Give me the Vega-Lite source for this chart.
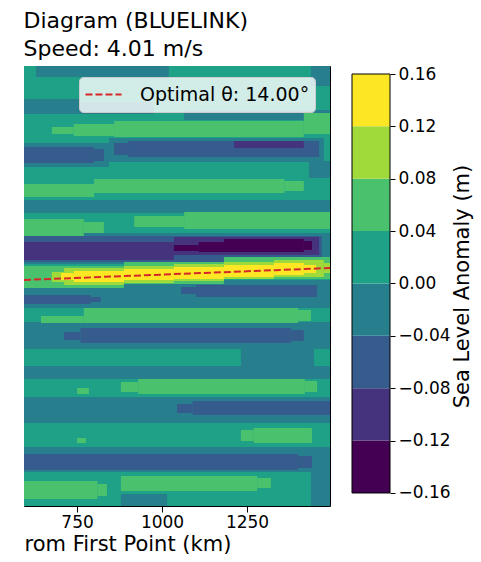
{
  "$schema": "https://vega.github.io/schema/vega-lite/v6.json",
  "padding": {"left": 23, "top": 10, "right": 2, "bottom": 2},
  "background": "white",
  "config": {
    "font": "DejaVu Sans",
    "view": {"stroke": null},
    "axis": {"labelColor": "black", "titleColor": "black", "tickColor": "black", "labelFontSize": 17, "titleFontSize": 21, "titleFontWeight": "normal", "grid": false, "domain": false, "tickSize": 6, "tickWidth": 1}
  },
  "title": {"text": ["Diagram (BLUELINK)", "Speed: 4.01 m/s"], "anchor": "start", "fontSize": 22, "fontWeight": "normal", "lineHeight": 28, "color": "black", "offset": 4},
  "spacing": 20,
  "resolve": {"legend": {"stroke": "independent"}},
  "hconcat": [
    {
      "width": 306,
      "height": 440,
      "view": {"stroke": "black", "strokeWidth": 1},
      "encoding": {
        "x": {"field": "km", "type": "quantitative", "scale": {"domain": [594, 1494], "nice": false, "zero": false}, "axis": {"values": [750, 1000, 1250], "format": "d", "title": "rom First Point (km)", "titleAnchor": "start", "labelPadding": 2, "titlePadding": 3}},
        "y": {"field": "t", "type": "quantitative", "scale": {"domain": [0, 440], "nice": false, "zero": false, "reverse": true}, "axis": null}
      },
      "layer": [
        {
          "data": {"values": [
            {"km": 594, "km2": 1494, "t": 0, "t2": 440, "sla": 0.02},
            {"km": 629, "km2": 1020, "t": 0, "t2": 11, "sla": -0.02},
            {"km": 1438, "km2": 1494, "t": 0, "t2": 20, "sla": -0.02},
            {"km": 594, "km2": 756, "t": 33, "t2": 48, "sla": -0.02},
            {"km": 756, "km2": 976, "t": 36, "t2": 48, "sla": -0.02},
            {"km": 1065, "km2": 1494, "t": 44, "t2": 54, "sla": -0.02},
            {"km": 594, "km2": 844, "t": 77, "t2": 101, "sla": -0.02},
            {"km": 844, "km2": 1476, "t": 72, "t2": 96, "sla": -0.02},
            {"km": 1432, "km2": 1494, "t": 95, "t2": 112, "sla": -0.02},
            {"km": 594, "km2": 1494, "t": 134, "t2": 147, "sla": -0.02},
            {"km": 594, "km2": 1494, "t": 167, "t2": 198, "sla": -0.02},
            {"km": 594, "km2": 1494, "t": 214, "t2": 242, "sla": -0.02},
            {"km": 594, "km2": 1494, "t": 256, "t2": 283, "sla": -0.02},
            {"km": 1232, "km2": 1447, "t": 283, "t2": 303, "sla": -0.02},
            {"km": 594, "km2": 1494, "t": 300, "t2": 313, "sla": -0.02},
            {"km": 594, "km2": 1494, "t": 331, "t2": 357, "sla": -0.02},
            {"km": 594, "km2": 1494, "t": 381, "t2": 406, "sla": -0.02},
            {"km": 879, "km2": 1015, "t": 428, "t2": 440, "sla": -0.02},
            {"km": 1438, "km2": 1494, "t": 405, "t2": 440, "sla": -0.02},
            {"km": 594, "km2": 800, "t": 81, "t2": 97, "sla": -0.06},
            {"km": 800, "km2": 829, "t": 83, "t2": 95, "sla": -0.06},
            {"km": 859, "km2": 900, "t": 77, "t2": 89, "sla": -0.06},
            {"km": 900, "km2": 1462, "t": 75, "t2": 91, "sla": -0.06},
            {"km": 594, "km2": 1470, "t": 170, "t2": 196, "sla": -0.06},
            {"km": 594, "km2": 790, "t": 229, "t2": 238, "sla": -0.06},
            {"km": 790, "km2": 820, "t": 231, "t2": 236, "sla": -0.06},
            {"km": 1056, "km2": 1100, "t": 221, "t2": 228, "sla": -0.06},
            {"km": 1100, "km2": 1456, "t": 219, "t2": 231, "sla": -0.06},
            {"km": 712, "km2": 760, "t": 266, "t2": 274, "sla": -0.06},
            {"km": 760, "km2": 1380, "t": 262, "t2": 277, "sla": -0.06},
            {"km": 1380, "km2": 1417, "t": 264, "t2": 275, "sla": -0.06},
            {"km": 1044, "km2": 1090, "t": 338, "t2": 347, "sla": -0.06},
            {"km": 1090, "km2": 1494, "t": 335, "t2": 349, "sla": -0.06},
            {"km": 594, "km2": 1400, "t": 388, "t2": 404, "sla": -0.06},
            {"km": 1400, "km2": 1441, "t": 390, "t2": 402, "sla": -0.06},
            {"km": 1212, "km2": 1417, "t": 75, "t2": 82, "sla": -0.1},
            {"km": 594, "km2": 1035, "t": 176, "t2": 194, "sla": -0.1},
            {"km": 1035, "km2": 1462, "t": 171, "t2": 189, "sla": -0.1},
            {"km": 1035, "km2": 1108, "t": 179, "t2": 185, "sla": -0.14},
            {"km": 1108, "km2": 1182, "t": 176, "t2": 186, "sla": -0.14},
            {"km": 1182, "km2": 1417, "t": 173, "t2": 186, "sla": -0.14},
            {"km": 1417, "km2": 1441, "t": 175, "t2": 184, "sla": -0.14},
            {"km": 676, "km2": 740, "t": 61, "t2": 68, "sla": 0.06},
            {"km": 740, "km2": 859, "t": 58, "t2": 70, "sla": 0.06},
            {"km": 859, "km2": 1417, "t": 55, "t2": 71, "sla": 0.06},
            {"km": 1417, "km2": 1494, "t": 47, "t2": 68, "sla": 0.06},
            {"km": 594, "km2": 800, "t": 118, "t2": 131, "sla": 0.06},
            {"km": 800, "km2": 1360, "t": 113, "t2": 127, "sla": 0.06},
            {"km": 1360, "km2": 1417, "t": 115, "t2": 125, "sla": 0.06},
            {"km": 594, "km2": 770, "t": 153, "t2": 170, "sla": 0.06},
            {"km": 770, "km2": 829, "t": 156, "t2": 167, "sla": 0.06},
            {"km": 918, "km2": 1065, "t": 150, "t2": 161, "sla": 0.06},
            {"km": 1065, "km2": 1494, "t": 146, "t2": 163, "sla": 0.06},
            {"km": 594, "km2": 888, "t": 200, "t2": 222, "sla": 0.06},
            {"km": 888, "km2": 1182, "t": 196, "t2": 218, "sla": 0.06},
            {"km": 1182, "km2": 1494, "t": 191, "t2": 213, "sla": 0.06},
            {"km": 644, "km2": 770, "t": 250, "t2": 257, "sla": 0.06},
            {"km": 770, "km2": 1400, "t": 242, "t2": 257, "sla": 0.06},
            {"km": 1400, "km2": 1438, "t": 244, "t2": 255, "sla": 0.06},
            {"km": 879, "km2": 930, "t": 316, "t2": 326, "sla": 0.06},
            {"km": 930, "km2": 1420, "t": 313, "t2": 328, "sla": 0.06},
            {"km": 1420, "km2": 1456, "t": 315, "t2": 326, "sla": 0.06},
            {"km": 750, "km2": 785, "t": 322, "t2": 328, "sla": 0.06},
            {"km": 1232, "km2": 1270, "t": 364, "t2": 375, "sla": 0.06},
            {"km": 1270, "km2": 1441, "t": 362, "t2": 377, "sla": 0.06},
            {"km": 750, "km2": 776, "t": 372, "t2": 377, "sla": 0.06},
            {"km": 594, "km2": 810, "t": 415, "t2": 433, "sla": 0.06},
            {"km": 810, "km2": 838, "t": 418, "t2": 430, "sla": 0.06},
            {"km": 879, "km2": 1280, "t": 410, "t2": 425, "sla": 0.06},
            {"km": 1280, "km2": 1320, "t": 412, "t2": 422, "sla": 0.06},
            {"km": 676, "km2": 712, "t": 206, "t2": 216, "sla": 0.1},
            {"km": 712, "km2": 888, "t": 202, "t2": 219, "sla": 0.1},
            {"km": 888, "km2": 1035, "t": 200, "t2": 217, "sla": 0.1},
            {"km": 1035, "km2": 1182, "t": 198, "t2": 215, "sla": 0.1},
            {"km": 1182, "km2": 1329, "t": 196, "t2": 213, "sla": 0.1},
            {"km": 1329, "km2": 1476, "t": 194, "t2": 211, "sla": 0.1},
            {"km": 1476, "km2": 1494, "t": 197, "t2": 207, "sla": 0.1},
            {"km": 703, "km2": 741, "t": 207, "t2": 214, "sla": 0.14},
            {"km": 741, "km2": 888, "t": 205, "t2": 216, "sla": 0.14},
            {"km": 888, "km2": 1035, "t": 203, "t2": 214, "sla": 0.14},
            {"km": 1035, "km2": 1182, "t": 201, "t2": 213, "sla": 0.14},
            {"km": 1182, "km2": 1329, "t": 199, "t2": 211, "sla": 0.14},
            {"km": 1329, "km2": 1417, "t": 197, "t2": 209, "sla": 0.14},
            {"km": 1417, "km2": 1453, "t": 199, "t2": 207, "sla": 0.14}
          ]},
          "mark": {"type": "rect", "clip": true},
          "encoding": {
            "x2": {"field": "km2"},
            "y2": {"field": "t2"},
            "color": {"field": "sla", "type": "quantitative", "scale": {"type": "threshold", "domain": [-0.12, -0.08, -0.04, 0, 0.04, 0.08, 0.12], "range": ["#440154", "#46337e", "#365c8d", "#277f8e", "#1fa187", "#4ac16d", "#9fda3a", "#fde725"]}, "legend": null}
          }
        },
        {
          "data": {"values": [
            {"km": 594, "t": 214, "label": "Optimal θ: 14.00°"},
            {"km": 1494, "t": 202, "label": "Optimal θ: 14.00°"}
          ]},
          "mark": {"type": "line", "strokeDash": [7, 3], "strokeWidth": 2, "clip": true},
          "encoding": {
            "stroke": {"field": "label", "type": "nominal", "scale": {"range": ["#d62728"]}, "legend": {"orient": "none", "legendX": 55, "legendY": 11, "title": null, "labelFontSize": 19, "labelLimit": 400, "labelColor": "black", "symbolType": "stroke", "symbolSize": 1300, "symbolStrokeWidth": 2, "symbolDash": [7, 3], "clipHeight": 25, "fillColor": "rgba(255,255,255,0.8)", "strokeColor": "#cccccc", "cornerRadius": 4, "padding": 5, "labelOffset": 17}}
          }
        }
      ]
    },
    {
      "width": 38,
      "height": 440,
      "view": {"stroke": null},
      "data": {"values": [
        {"lo": -0.16, "hi": -0.12, "sla": -0.14},
        {"lo": -0.12, "hi": -0.08, "sla": -0.1},
        {"lo": -0.08, "hi": -0.04, "sla": -0.06},
        {"lo": -0.04, "hi": 0.0, "sla": -0.02},
        {"lo": 0.0, "hi": 0.04, "sla": 0.02},
        {"lo": 0.04, "hi": 0.08, "sla": 0.06},
        {"lo": 0.08, "hi": 0.12, "sla": 0.1},
        {"lo": 0.12, "hi": 0.16, "sla": 0.14}
      ]},
      "layer": [
        {
          "mark": {"type": "rect"},
          "encoding": {
            "y": {"field": "lo", "type": "quantitative", "scale": {"domain": [-0.16993, 0.16611], "nice": false, "zero": false}, "axis": {"orient": "right", "values": [-0.16, -0.12, -0.08, -0.04, 0, 0.04, 0.08, 0.12, 0.16], "format": ".2f", "tickSize": 5, "labelPadding": 3, "title": "Sea Level Anomaly (m)", "titleAngle": 270, "titlePadding": 22}},
            "y2": {"field": "hi"},
            "color": {"field": "sla", "type": "quantitative", "scale": {"type": "threshold", "domain": [-0.12, -0.08, -0.04, 0, 0.04, 0.08, 0.12], "range": ["#440154", "#46337e", "#365c8d", "#277f8e", "#1fa187", "#4ac16d", "#9fda3a", "#fde725"]}, "legend": null}
          }
        },
        {
          "mark": {"type": "rect", "filled": false, "stroke": "black", "strokeWidth": 1},
          "encoding": {
            "y": {"aggregate": "min", "field": "lo", "type": "quantitative"},
            "y2": {"aggregate": "max", "field": "hi"}
          }
        }
      ]
    }
  ]
}
